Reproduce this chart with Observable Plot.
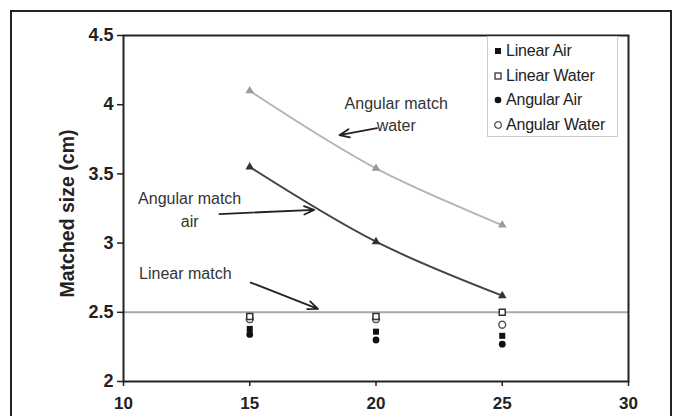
<!DOCTYPE html>
<html>
<head>
<meta charset="utf-8">
<script src="https://cdn.jsdelivr.net/npm/d3@7"></script>
<script src="https://cdn.jsdelivr.net/npm/@observablehq/plot@0.6"></script>
<style>
  body { margin: 0; background: #fff; }
  #wrap { position: relative; width: 676px; height: 416px; overflow: hidden; font-family: "Liberation Sans", Arial, sans-serif; }
  #outer { position: absolute; left: 10px; top: 10px; width: 658px; height: 420px; border: 2px solid #222; pointer-events: none; }
  #legend { position: absolute; left: 487px; top: 36px; width: 131px; height: 101px; border: 1px solid #ccc; background: #fff; box-sizing: border-box; padding-top: 2px; }
  .row { display: flex; align-items: center; height: 24.5px; font-size: 16px; color: #222; padding-left: 5px; white-space: nowrap; letter-spacing: -0.2px; }
  .row svg { margin-right: 3px; flex: none; }
</style>
</head>
<body>
<div id="wrap">
  <div id="chart"></div>
  <div id="legend"></div>
  <div id="outer"></div>
</div>
<script>
// ---- data ----
const distances = [15, 20, 25];
const angularMatchWater = [4.10, 3.54, 3.13];
const angularMatchAir = [3.55, 3.01, 2.62];
const linearAir = [2.38, 2.36, 2.33];
const linearWater = [2.47, 2.47, 2.50];
const angularAir = [2.34, 2.30, 2.27];
const angularWater = [2.45, 2.45, 2.41];
const linearMatch = 2.5;
const xTicks = [10, 15, 20, 25, 30];
const yTicks = [2, 2.5, 3, 3.5, 4, 4.5];

const annotations = [
  {text: "Angular match\nwater", x: 20.8, y: 3.94},
  {text: "Angular match\nair", x: 12.62, y: 3.25},
  {text: "Linear match", x: 12.45, y: 2.79}
];
const arrows = [
  {x1: 20.04, y1: 3.83, x2: 18.55, y2: 3.78},
  {x1: 13.8, y1: 3.21, x2: 17.55, y2: 3.24},
  {x1: 15.04, y1: 2.715, x2: 17.7, y2: 2.525}
];

const rows = (ys) => distances.map((d, i) => ({x: d, y: ys[i]}));

const series = [
  {name: "Linear Air", data: linearAir, symbol: "square", fill: "#111", stroke: "none"},
  {name: "Linear Water", data: linearWater, symbol: "square", fill: "#fff", stroke: "#333"},
  {name: "Angular Air", data: angularAir, symbol: "circle", fill: "#111", stroke: "none"},
  {name: "Angular Water", data: angularWater, symbol: "circle", fill: "#fff", stroke: "#555"}
];

const chart = Plot.plot({
  width: 676,
  height: 416,
  marginLeft: 123,
  marginRight: 48,
  marginTop: 35,
  marginBottom: 35,
  style: {fontFamily: "'Liberation Sans', Arial, sans-serif", background: "transparent", color: "#222"},
  x: {domain: [10, 30]},
  y: {domain: [2, 4.5]},
  marks: [
    Plot.ruleY([linearMatch], {stroke: "#a8a8a8", strokeWidth: 2}),
    Plot.line(rows(angularMatchWater), {x: "x", y: "y", curve: "catmull-rom", stroke: "#b5b5b5", strokeWidth: 2}),
    Plot.line(rows(angularMatchAir), {x: "x", y: "y", curve: "catmull-rom", stroke: "#444", strokeWidth: 2}),
    Plot.dot(rows(angularMatchWater), {x: "x", y: "y", symbol: "triangle", r: 3.2, fill: "#999"}),
    Plot.dot(rows(angularMatchAir), {x: "x", y: "y", symbol: "triangle", r: 3.2, fill: "#333"}),
    ...series.slice().reverse().map(s => Plot.dot(rows(s.data), {x: "x", y: "y", symbol: s.symbol, r: 3.4, fill: s.fill, stroke: s.stroke, strokeWidth: 1.5})),
    Plot.text(annotations, {x: "x", y: "y", text: "text", fontSize: 16, fill: "#333", lineHeight: 1.4}),
    Plot.arrow(arrows, {x1: "x1", y1: "y1", x2: "x2", y2: "y2", stroke: "#222", strokeWidth: 1.8, headLength: 9, headAngle: 45}),
    Plot.frame({stroke: "#222", strokeWidth: 2}),
    Plot.axisY({ticks: yTicks, tickFormat: d => String(d), tickSize: 6, tickPadding: 4, fontSize: 18, fontWeight: "bold", label: null, strokeWidth: 1.5}),
    Plot.axisX({ticks: xTicks, tickFormat: d => String(d), tickSize: 5, tickPadding: 10, fontSize: 17, fontWeight: "bold", label: null, strokeWidth: 1.5}),
    Plot.text(["Matched size (cm)"], {frameAnchor: "left", textAnchor: "middle", rotate: -90, dx: -56, dy: 5, fontSize: 19.5, fontWeight: "bold", fill: "#222"})
  ]
});
document.getElementById("chart").appendChild(chart);

// legend
const legend = document.getElementById("legend");
for (const s of series) {
  const row = document.createElement("div");
  row.className = "row";
  const shape = s.symbol === "square"
    ? `<rect x="2" y="2" width="6" height="6" fill="${s.fill}" stroke="${s.stroke}" stroke-width="1.3"/>`
    : `<circle cx="5" cy="5" r="3.3" fill="${s.fill}" stroke="${s.stroke}" stroke-width="1.3"/>`;
  row.innerHTML = `<svg width="10" height="10">${shape}</svg><span>${s.name}</span>`;
  legend.appendChild(row);
}
</script>
</body>
</html>
